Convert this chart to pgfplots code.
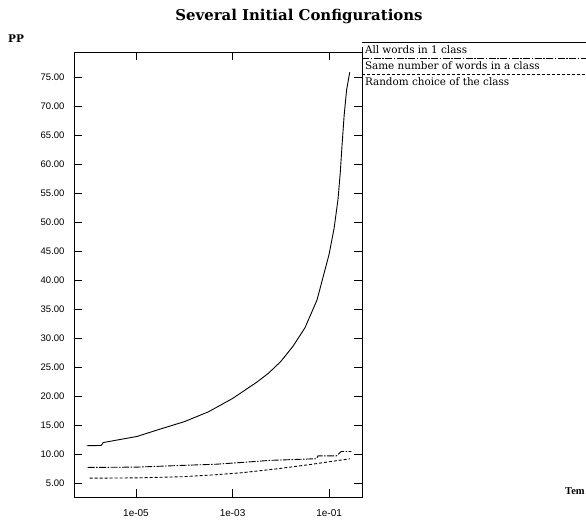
\documentclass[border=0pt]{standalone}
\usepackage{fontspec}
\setmainfont{Liberation Serif}
\setsansfont{Liberation Sans}
\newfontfamily\wideserif{DejaVu Serif}
\usepackage{pgfplots}
\pgfplotsset{compat=1.18}
\begin{document}
\begin{tikzpicture}
\path[use as bounding box] (0pt,0pt) rectangle (586pt,-522pt);
\node[anchor=base, font=\wideserif\bfseries\fontsize{14.9}{17}\selectfont, inner sep=0pt] at (299pt,-20.5pt) {Several Initial Configurations};
\node[anchor=base west, font=\wideserif\bfseries\fontsize{10.5}{12}\selectfont, inner sep=0pt] at (8pt,-42.3pt) {PP};
\node[anchor=base west, font=\bfseries\fontsize{10.5}{12}\selectfont, inner sep=0pt] at (565pt,-494pt) {Tem};
\begin{axis}[
  at={(74pt,-497pt)}, anchor=south west,
  scale only axis, width=288pt, height=445pt,
  xmode=log, xmin=5.2e-7, xmax=0.48, ymin=2.6, ymax=79.4,
  xtick={1e-5,1e-3,1e-1}, xticklabels={1e-05,1e-03,1e-01},
  xminorticks=false, yminorticks=false,
  ytick={5,10,15,20,25,30,35,40,45,50,55,60,65,70,75},
  yticklabels={5.00,10.00,15.00,20.00,25.00,30.00,35.00,40.00,45.00,50.00,55.00,60.00,65.00,70.00,75.00},
  tick align=inside, major tick length=8pt,
  tick style={line width=0.9pt, black},
  axis line style={line width=0.9pt},
  tick label style={font=\sffamily\fontsize{9.5}{11}\selectfont},
  yticklabel style={xshift=-6pt},
  xticklabel style={yshift=-9pt, font=\sffamily\fontsize{10}{11}\selectfont},
  legend style={at={(axis description cs:1,1)}, anchor=north west, yshift=8pt,
    draw=none, fill=none, inner sep=0pt, outer sep=0pt, row sep=2.5pt,
    font=\wideserif\fontsize{10.4}{12}\selectfont, cells={anchor=west},
    /tikz/every even column/.append style={column sep=2pt}},
  legend image code/.code={\draw[#1, overlay] (0pt,7.8pt) -- (240pt,7.8pt); \path (0pt,-3pt) rectangle (0.1pt,3pt);},
]
\addplot[black, line width=0.9pt] table {
x y
9.5e-7 11.45
1.9e-6 11.5
2.1e-6 12.0
1.05e-5 13.05
3.1e-5 14.3
1.0e-4 15.6
3.16e-4 17.3
1.0e-3 19.6
3.16e-3 22.4
5.62e-3 24.0
1.0e-2 26.0
1.78e-2 28.6
3.16e-2 31.8
5.62e-2 36.6
0.10 44.5
0.127 49.0
0.153 54.0
0.170 58.5
0.186 63.5
0.205 68.5
0.230 72.8
0.267 75.9
};
\addlegendentry{All words in 1 class}
\addplot[black, line width=0.9pt, dash pattern=on 7pt off 1.5pt on 1.5pt off 1.5pt] table {
x y
1e-6 7.7
1.05e-5 7.76
9.3e-5 8.06
4.6e-4 8.26
1.6e-3 8.57
5.9e-3 8.92
4.0e-2 9.17
5.5e-2 9.2
5.9e-2 9.7
0.141 9.7
0.178 10.45
0.29 10.45
};
\addlegendentry{Same number of words in a class}
\addplot[black, line width=0.9pt, dash pattern=on 3pt off 2pt] table {
x y
1.1e-6 5.85
1.05e-5 5.9
9.3e-5 6.1
4.6e-4 6.45
1.6e-3 6.8
8.1e-3 7.45
4.0e-2 8.2
0.27 9.2
};
\addlegendentry{Random choice of the class}
\end{axis}
\end{tikzpicture}
\end{document}
